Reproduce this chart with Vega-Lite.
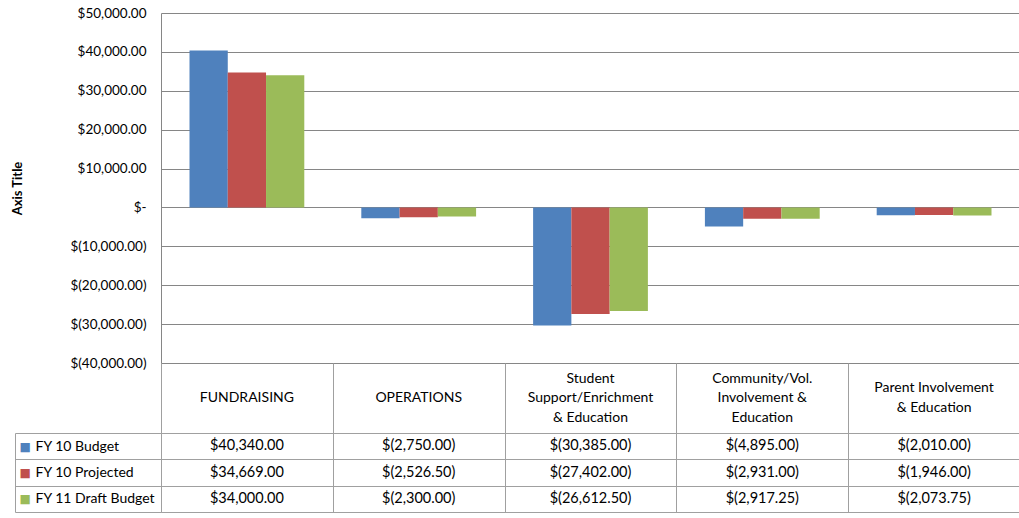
{
  "$schema": "https://vega.github.io/schema/vega-lite/v6.json",
  "padding": {"left": 11, "top": 6, "right": 0, "bottom": 0},
  "bounds": "flush",
  "spacing": 0,
  "background": "white",
  "config": {
    "font": "Lato",
    "view": {"stroke": null},
    "axis": {"labelFont": "Lato", "titleFont": "Lato", "labelColor": "#000000", "titleColor": "#000000"}
  },
  "datasets": {
    "budget": [
      {"category": "FUNDRAISING", "series": "FY 10 Budget", "value": 40340},
      {"category": "FUNDRAISING", "series": "FY 10 Projected", "value": 34669},
      {"category": "FUNDRAISING", "series": "FY 11 Draft Budget", "value": 34000},
      {"category": "OPERATIONS", "series": "FY 10 Budget", "value": -2750},
      {"category": "OPERATIONS", "series": "FY 10 Projected", "value": -2526.5},
      {"category": "OPERATIONS", "series": "FY 11 Draft Budget", "value": -2300},
      {"category": "Student Support/Enrichment & Education", "series": "FY 10 Budget", "value": -30385},
      {"category": "Student Support/Enrichment & Education", "series": "FY 10 Projected", "value": -27402},
      {"category": "Student Support/Enrichment & Education", "series": "FY 11 Draft Budget", "value": -26612.5},
      {"category": "Community/Vol. Involvement & Education", "series": "FY 10 Budget", "value": -4895},
      {"category": "Community/Vol. Involvement & Education", "series": "FY 10 Projected", "value": -2931},
      {"category": "Community/Vol. Involvement & Education", "series": "FY 11 Draft Budget", "value": -2917.25},
      {"category": "Parent Involvement & Education", "series": "FY 10 Budget", "value": -2010},
      {"category": "Parent Involvement & Education", "series": "FY 10 Projected", "value": -1946},
      {"category": "Parent Involvement & Education", "series": "FY 11 Draft Budget", "value": -2073.75}
    ],
    "headers": [
      {"category": "FUNDRAISING", "header": "FUNDRAISING"},
      {"category": "OPERATIONS", "header": "OPERATIONS"},
      {"category": "Student Support/Enrichment & Education", "header": "Student\nSupport/Enrichment\n& Education"},
      {"category": "Community/Vol. Involvement & Education", "header": "Community/Vol.\nInvolvement &\nEducation"},
      {"category": "Parent Involvement & Education", "header": "Parent Involvement\n& Education"}
    ]
  },
  "vconcat": [
    {
      "width": 859,
      "height": 350,
      "data": {"name": "budget"},
      "mark": {"type": "bar"},
      "encoding": {
        "x": {
          "field": "category", "type": "nominal",
          "sort": ["FUNDRAISING", "OPERATIONS", "Student Support/Enrichment & Education", "Community/Vol. Involvement & Education", "Parent Involvement & Education"],
          "scale": {"paddingInner": 0, "paddingOuter": 0},
          "axis": {"labels": false, "ticks": false, "title": null, "grid": false, "domainColor": "#868686"}
        },
        "xOffset": {
          "field": "series", "type": "nominal",
          "sort": ["FY 10 Budget", "FY 10 Projected", "FY 11 Draft Budget"],
          "scale": {"paddingInner": 0, "paddingOuter": 0.745}
        },
        "y": {
          "field": "value", "type": "quantitative",
          "scale": {"domain": [-40000, 50000], "nice": false, "zero": false},
          "axis": {
            "values": [-40000, -30000, -20000, -10000, 0, 10000, 20000, 30000, 40000, 50000],
            "labelExpr": "datum.value == 0 ? '$-\u00a0\u00a0\u00a0\u00a0' : datum.value > 0 ? '$' + format(datum.value, ',.2f') + '\u00a0\u00a0\u00a0' : '$(' + format(-datum.value, ',.2f') + ')'",
            "labelFontSize": 13.5,
            "labelPadding": 15,
            "ticks": false,
            "gridColor": "#868686",
            "domainColor": "#868686",
            "title": "Axis Title",
            "titleFontSize": 13,
            "titleFontWeight": "bold",
            "titlePadding": 45
          }
        },
        "color": {
          "field": "series", "type": "nominal",
          "scale": {"domain": ["FY 10 Budget", "FY 10 Projected", "FY 11 Draft Budget"], "range": ["#4F81BD", "#C0504D", "#9BBB59"]},
          "legend": null
        }
      }
    },
    {
      "width": 859,
      "height": 70,
      "data": {"name": "headers"},
      "encoding": {
        "x": {
          "field": "category", "type": "nominal",
          "sort": ["FUNDRAISING", "OPERATIONS", "Student Support/Enrichment & Education", "Community/Vol. Involvement & Education", "Parent Involvement & Education"],
          "scale": {"paddingInner": 0, "paddingOuter": 0},
          "axis": {"labels": false, "ticks": false, "title": null, "domain": false, "grid": true, "tickBand": "extent", "gridColor": "#A0A0A0"}
        },
        "text": {"field": "header", "type": "nominal"}
      },
      "layer": [
        {
          "transform": [{"filter": "length(split(datum.header, '\\n')) == 1"}],
          "mark": {"type": "text", "lineBreak": "\n", "fontSize": 14, "lineHeight": 19.5, "baseline": "middle", "color": "#000000"}
        },
        {
          "transform": [{"filter": "length(split(datum.header, '\\n')) == 2"}],
          "mark": {"type": "text", "lineBreak": "\n", "fontSize": 14, "lineHeight": 19.5, "baseline": "middle", "dy": -9.75, "color": "#000000"}
        },
        {
          "transform": [{"filter": "length(split(datum.header, '\\n')) == 3"}],
          "mark": {"type": "text", "lineBreak": "\n", "fontSize": 14, "lineHeight": 19.5, "baseline": "middle", "dy": -19.5, "color": "#000000"}
        }
      ]
    },
    {
      "width": 859,
      "height": 79,
      "data": {"name": "budget"},
      "transform": [
        {"calculate": "datum.value < 0 ? '$(' + format(-datum.value, ',.2f') + ')' : '$' + format(datum.value, ',.2f')", "as": "label"}
      ],
      "layer": [
        {
          "mark": {"type": "text", "fontSize": 14.5, "color": "#000000"},
          "encoding": {
            "x": {
              "field": "category", "type": "nominal",
              "sort": ["FUNDRAISING", "OPERATIONS", "Student Support/Enrichment & Education", "Community/Vol. Involvement & Education", "Parent Involvement & Education"],
              "scale": {"paddingInner": 0, "paddingOuter": 0},
              "axis": {"labels": false, "ticks": false, "title": null, "domain": false, "grid": true, "tickBand": "extent", "gridColor": "#A0A0A0"}
            },
            "y": {
              "field": "series", "type": "nominal",
              "sort": ["FY 10 Budget", "FY 10 Projected", "FY 11 Draft Budget"],
              "scale": {"paddingInner": 0, "paddingOuter": 0},
              "axis": {
                "orient": "left", "title": null, "tickBand": "extent", "ticks": true, "tickSize": 146,
                "tickColor": "#A0A0A0", "grid": true, "gridColor": "#A0A0A0", "domainColor": "#A0A0A0",
                "labelAlign": "left", "labelPadding": -20, "labelFontSize": 14
              }
            },
            "text": {"field": "label", "type": "nominal"}
          }
        },
        {
          "mark": {"type": "text", "opacity": 0},
          "encoding": {
            "y": {
              "field": "series", "type": "nominal",
              "sort": ["FY 10 Budget", "FY 10 Projected", "FY 11 Draft Budget"],
              "scale": {"paddingInner": 0, "paddingOuter": 0},
              "axis": {
                "orient": "left", "title": null, "offset": 146, "ticks": false, "grid": false,
                "domainColor": "#A0A0A0", "labelAlign": "left", "labelPadding": -4,
                "labelFont": "DejaVu Sans", "labelFontSize": 12,
                "labelExpr": "'\u25A0'",
                "labelColor": {
                  "condition": [
                    {"test": "datum.value == 'FY 10 Budget'", "value": "#4F81BD"},
                    {"test": "datum.value == 'FY 10 Projected'", "value": "#C0504D"}
                  ],
                  "value": "#9BBB59"
                }
              }
            },
            "text": {"value": ""}
          }
        }
      ],
      "resolve": {"scale": {"y": "independent"}}
    }
  ]
}
